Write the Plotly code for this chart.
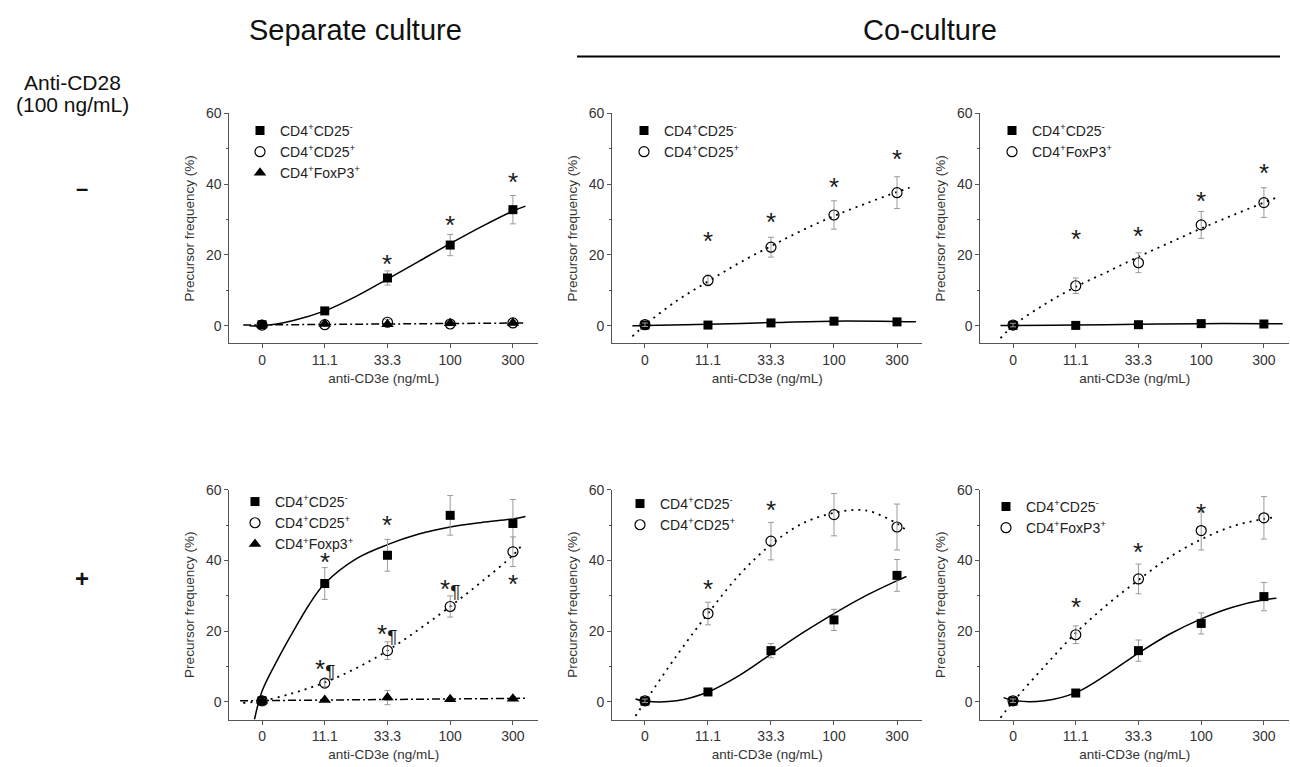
import plotly.graph_objects as go

W, H = 1290, 767
FONT = "Liberation Sans, Arial, sans-serif"

# ---------------- data ----------------
dose_labels = ["0", "11.1", "33.3", "100", "300"]
dose_pos = [0, 1, 2, 3, 4]

lbl_neg = "CD4<sup>+</sup>CD25<sup>-</sup>"
lbl_pos = "CD4<sup>+</sup>CD25<sup>+</sup>"
lbl_fox = "CD4<sup>+</sup>FoxP3<sup>+</sup>"
lbl_fox_lc = "CD4<sup>+</sup>Foxp3<sup>+</sup>"

# Panel A: separate culture, no anti-CD28
a_neg = [0.3, 4.2, 13.5, 22.8, 32.8]
a_neg_err = [0.4, 0.8, 2.0, 3.0, 4.0]
a_pos = [0.2, 0.3, 1.0, 0.5, 0.8]
a_pos_err = [0.3, 0.3, 0.8, 0.5, 0.6]
a_fox = [0.3, 0.5, 0.4, 0.7, 0.8]
a_fox_err = [0.3, 0.3, 0.3, 0.4, 0.4]
a_fit_neg_x = [-0.2, 0, 0.5, 1, 1.5, 2, 2.5, 3, 3.5, 4, 4.2]
a_fit_neg_y = [0.0, 0.0, 1.5, 4.2, 8.3, 13.2, 18.2, 23.2, 28.0, 32.4, 33.8]
a_fit_low_x = [-0.3, 4.2]
a_fit_low_y = [0.2, 0.8]
a_star_x = [2, 3, 4]
a_star_y = [19.0, 30.0, 42.0]

# Panel B: co-culture CD25- / CD25+, no anti-CD28
b_neg = [0.2, 0.2, 0.8, 1.3, 1.1]
b_neg_err = [0.3, 0.3, 0.4, 0.5, 0.5]
b_pos = [0.3, 12.8, 22.2, 31.3, 37.6]
b_pos_err = [0.5, 1.5, 2.8, 4.0, 4.5]
b_fit_pos_x = [-0.2, 0, 0.5, 1, 1.5, 2, 2.5, 3, 3.5, 4, 4.2]
b_fit_pos_y = [-3.0, 0.2, 7.0, 12.5, 17.8, 22.5, 27.0, 31.0, 34.5, 37.8, 39.0]
b_fit_neg_x = [-0.2, 0, 1, 2, 3, 4, 4.3]
b_fit_neg_y = [0.0, 0.1, 0.4, 0.9, 1.3, 1.2, 1.1]
b_star_x = [1, 2, 3, 4]
b_star_y = [25.5, 30.8, 40.6, 48.4]

# Panel C: co-culture CD25- / FoxP3+, no anti-CD28
c_neg = [0.1, 0.1, 0.3, 0.6, 0.5]
c_neg_err = [0.3, 0.3, 0.3, 0.4, 0.4]
c_fox = [0.2, 11.3, 17.8, 28.5, 34.8]
c_fox_err = [0.5, 2.2, 2.8, 3.8, 4.2]
c_fit_fox_x = [-0.2, 0, 0.5, 1, 1.5, 2, 2.5, 3, 3.5, 4, 4.2]
c_fit_fox_y = [-3.5, 0.0, 6.0, 11.0, 15.2, 19.5, 23.5, 27.5, 31.2, 34.8, 36.2]
c_fit_neg_x = [-0.2, 0, 1, 2, 3, 4, 4.3]
c_fit_neg_y = [0.1, 0.1, 0.2, 0.4, 0.6, 0.6, 0.6]
c_star_x = [1, 2, 3, 4]
c_star_y = [26.0, 26.9, 36.6, 44.5]

# Panel D: separate culture, anti-CD28
d_neg = [0.3, 33.5, 41.5, 52.8, 50.5]
d_neg_err = [0.5, 4.5, 4.5, 5.6, 6.8]
d_pos = [0.3, 5.3, 14.5, 27.0, 42.5]
d_pos_err = [0.5, 1.0, 2.5, 3.0, 4.2]
d_fox = [0.3, 0.5, 1.2, 0.7, 0.9]
d_fox_err = [0.3, 0.4, 2.0, 0.5, 0.6]
d_fit_neg_x = [-0.12, 0, 0.25, 0.5, 0.75, 1, 1.5, 2, 2.5, 3, 3.5, 4, 4.2]
d_fit_neg_y = [-5.0, 3.0, 12.0, 20.0, 27.5, 33.5, 40.5, 44.5, 47.5, 49.5, 50.8, 51.8, 52.5]
d_fit_pos_x = [-0.3, 0, 0.5, 1, 1.5, 2, 2.5, 3, 3.5, 4, 4.15]
d_fit_pos_y = [-0.3, 0.3, 2.5, 5.5, 9.5, 14.5, 20.5, 27.0, 34.0, 41.5, 44.5]
d_fit_fox_x = [-0.35, 4.2]
d_fit_fox_y = [0.3, 1.0]
d_star_x = [1, 2, 3, 4, 4]
d_star_y = [41.0, 51.6, 62.5, 63.6, 34.8]
d_star2_x = [1, 2, 3]
d_star2_y = [10.6, 20.5, 33.4]

# Panel E: co-culture CD25- / CD25+, anti-CD28
e_neg = [0.2, 2.8, 14.5, 23.2, 35.8]
e_neg_err = [0.3, 0.6, 2.0, 3.0, 4.5]
e_pos = [0.3, 25.0, 45.5, 53.0, 49.5]
e_pos_err = [0.5, 3.2, 5.3, 6.0, 6.5]
e_fit_pos_x = [-0.15, 0, 0.5, 1, 1.5, 2, 2.5, 3, 3.5, 4, 4.15]
e_fit_pos_y = [-4.0, 0.0, 13.0, 25.0, 36.0, 44.5, 50.5, 53.5, 54.2, 50.5, 48.5]
e_fit_neg_x = [-0.15, 0, 0.5, 1, 1.5, 2, 2.5, 3, 3.5, 4, 4.15]
e_fit_neg_y = [0.8, 0.2, 0.3, 2.8, 7.5, 13.5, 19.5, 25.0, 30.0, 34.3, 35.5]
e_star_x = [1, 2, 3, 4]
e_star_y = [33.4, 55.8, 63.6, 62.5]

# Panel F: co-culture CD25- / FoxP3+, anti-CD28
f_neg = [0.2, 2.5, 14.5, 22.2, 29.8]
f_neg_err = [0.3, 0.6, 3.0, 3.0, 4.0]
f_fox = [0.3, 19.0, 34.8, 48.5, 52.1]
f_fox_err = [0.5, 2.5, 4.2, 5.5, 6.0]
f_fit_fox_x = [-0.2, 0, 0.5, 1, 1.5, 2, 2.5, 3, 3.5, 4, 4.2]
f_fit_fox_y = [-4.5, 0.0, 10.0, 19.5, 27.5, 34.5, 41.0, 46.0, 49.7, 51.8, 52.3]
f_fit_neg_x = [-0.15, 0, 0.5, 1, 1.5, 2, 2.5, 3, 3.5, 4, 4.2]
f_fit_neg_y = [1.2, 0.4, 0.3, 2.6, 7.8, 13.8, 19.2, 23.5, 26.8, 28.9, 29.3]
f_star_x = [1, 2, 3, 4]
f_star_y = [28.3, 43.7, 55.0, 62.8]

# ---------------- layout helpers ----------------
def px(x):
    return x / W

def py(y):
    return 1 - y / H

col_px = [(229.4, 538.0), (612.2, 922.2), (980.4, 1289.0)]
row_px = [(106.5, 339.0), (487.0, 719.0)]
XR = [-0.52, 4.4]
YR = [-5, 60]

SOLID = dict(color="black", width=1.5)
DOT = dict(color="black", width=1.8, dash="2px,5px")
DASHDOT = dict(color="black", width=1.5, dash="8px,3px,2px,3px")

SQ = dict(symbol="square", size=9, color="black")
CI = dict(symbol="circle-open", size=10, color="black", line=dict(width=1.2, color="black"))
TR = dict(symbol="triangle-up", size=11, color="black")

fig = go.Figure()


def err(vals):
    return dict(type="data", array=vals, visible=True, color="#9a9a9a", thickness=1, width=3)


def add_fit(i, xs, ys, line):
    fig.add_trace(go.Scatter(x=xs, y=ys, mode="lines", line=dict(shape="spline", smoothing=1.0, **line),
                             xaxis=f"x{i}", yaxis=f"y{i}", showlegend=False, hoverinfo="skip"))


def add_pts(i, ys, es, marker, name):
    fig.add_trace(go.Scatter(x=dose_pos, y=ys, mode="markers", marker=marker, error_y=err(es),
                             name=name, xaxis=f"x{i}", yaxis=f"y{i}",
                             legend="legend" if i == 1 else f"legend{i}", cliponaxis=False))


def add_stars(i, xs, ys, text="*"):
    for x, y in zip(xs, ys):
        fig.add_annotation(x=x, y=y, xref=f"x{i}", yref=f"y{i}", text=text, showarrow=False,
                           xanchor="center", yanchor="middle",
                           font=dict(family=FONT, size=26, color="#1a1a1a"), yshift=-5)


# Panel 1
add_fit(1, a_fit_neg_x, a_fit_neg_y, SOLID)
add_fit(1, a_fit_low_x, a_fit_low_y, DASHDOT)
add_pts(1, a_neg, a_neg_err, SQ, lbl_neg)
add_pts(1, a_pos, a_pos_err, CI, lbl_pos)
add_pts(1, a_fox, a_fox_err, TR, lbl_fox)
add_stars(1, a_star_x, a_star_y)

# Panel 2
add_fit(2, b_fit_pos_x, b_fit_pos_y, DOT)
add_fit(2, b_fit_neg_x, b_fit_neg_y, SOLID)
add_pts(2, b_neg, b_neg_err, SQ, lbl_neg)
add_pts(2, b_pos, b_pos_err, CI, lbl_pos)
add_stars(2, b_star_x, b_star_y)

# Panel 3
add_fit(3, c_fit_fox_x, c_fit_fox_y, DOT)
add_fit(3, c_fit_neg_x, c_fit_neg_y, SOLID)
add_pts(3, c_neg, c_neg_err, SQ, lbl_neg)
add_pts(3, c_fox, c_fox_err, CI, lbl_fox)
add_stars(3, c_star_x, c_star_y)

# Panel 4
add_fit(4, d_fit_neg_x, d_fit_neg_y, SOLID)
add_fit(4, d_fit_pos_x, d_fit_pos_y, DOT)
add_fit(4, d_fit_fox_x, d_fit_fox_y, DASHDOT)
add_pts(4, d_neg, d_neg_err, SQ, lbl_neg)
add_pts(4, d_pos, d_pos_err, CI, lbl_pos)
add_pts(4, d_fox, d_fox_err, TR, lbl_fox_lc)
add_stars(4, d_star_x, d_star_y)
add_stars(4, d_star2_x, d_star2_y,
          text="*<span style='font-size:19px'>¶</span>")

# Panel 5
add_fit(5, e_fit_pos_x, e_fit_pos_y, DOT)
add_fit(5, e_fit_neg_x, e_fit_neg_y, SOLID)
add_pts(5, e_neg, e_neg_err, SQ, lbl_neg)
add_pts(5, e_pos, e_pos_err, CI, lbl_pos)
add_stars(5, e_star_x, e_star_y)

# Panel 6
add_fit(6, f_fit_fox_x, f_fit_fox_y, DOT)
add_fit(6, f_fit_neg_x, f_fit_neg_y, SOLID)
add_pts(6, f_neg, f_neg_err, SQ, lbl_neg)
add_pts(6, f_fox, f_fox_err, CI, lbl_fox)
add_stars(6, f_star_x, f_star_y)

AX_COL = "#555555"
TICK_FONT = dict(family=FONT, size=14, color="#333")
TITLE_FONT = dict(family=FONT, size=13.5, color="#333")

layout = dict(
    width=W, height=H, margin=dict(l=0, r=0, t=0, b=0),
    paper_bgcolor="white", plot_bgcolor="white",
    font=dict(family=FONT, color="#222"),
)

legend_px = [(240, 108), (624, 108), (992, 108), (235, 483), (620, 485), (986, 488)]

for i in range(1, 7):
    r = 0 if i <= 3 else 1
    c = (i - 1) % 3
    x0, x1 = col_px[c]
    ytop, ybot = row_px[r]
    xa = dict(domain=[px(x0), px(x1)], range=XR, anchor=f"y{i}", showline=True, linecolor=AX_COL,
              linewidth=1, ticks="outside", ticklen=4, tickcolor=AX_COL, tickvals=dose_pos,
              ticktext=dose_labels, tickfont=TICK_FONT, showgrid=False, zeroline=False,
              title=dict(text="anti-CD3e (ng/mL)", font=TITLE_FONT, standoff=6))
    ya = dict(domain=[py(ybot), py(ytop)], range=YR, anchor=f"x{i}", showline=True, linecolor=AX_COL,
              linewidth=1, ticks="outside", ticklen=4, tickcolor=AX_COL, tickvals=[0, 20, 40, 60],
              tickfont=TICK_FONT, showgrid=False, zeroline=False,
              minor=dict(tickvals=[10, 30, 50], ticks="outside", ticklen=2.5, tickcolor=AX_COL),
              title=dict(text="Precursor frequency (%)", font=TITLE_FONT, standoff=8))
    layout["xaxis" if i == 1 else f"xaxis{i}"] = xa
    layout["yaxis" if i == 1 else f"yaxis{i}"] = ya
    lx, ly = legend_px[i - 1]
    layout["legend" if i == 1 else f"legend{i}"] = dict(
        x=px(lx), y=py(ly), xanchor="left", yanchor="top", bgcolor="rgba(0,0,0,0)",
        font=dict(family=FONT, size=14, color="#222"), traceorder="normal", tracegroupgap=0,
        borderwidth=0)

fig.update_layout(**layout)


def label(x, y, text, size):
    fig.add_annotation(x=px(x), y=py(y), xref="paper", yref="paper", text=text, showarrow=False,
                       xanchor="center", yanchor="middle", font=dict(family=FONT, size=size, color="#111"))


label(355, 22, "Separate culture", 29)
label(930, 22, "Co-culture", 29)
fig.add_shape(type="line", xref="paper", yref="paper", x0=px(577), x1=px(1280), y0=py(49), y1=py(49),
              line=dict(color="black", width=2))
label(72, 75, "Anti-CD28", 21)
label(72, 98, "(100 ng/mL)", 21)
label(82, 182, "<b>–</b>", 22)
label(82, 577, "<b>+</b>", 24)

fig.write_html("out.html", config={"displayModeBar": False},
               post_script="document.body.style.margin='0px';document.body.style.overflow='hidden';")
